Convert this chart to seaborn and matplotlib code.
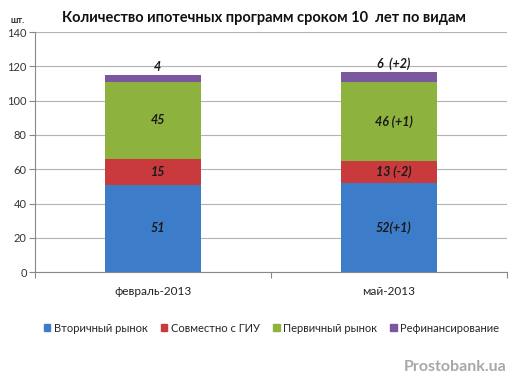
import numpy as np
import pandas as pd
import matplotlib
matplotlib.use("Agg")
import matplotlib.pyplot as plt
import seaborn as sns

# данные
months = ["февраль-2013", "май-2013"]
series = ["Вторичный рынок", "Совместно с ГИУ", "Первичный рынок", "Рефинансирование"]
vtorichny = [51, 52]
sovmestno = [15, 13]
pervichny = [45, 46]
refin = [4, 6]
labels_vtorichny = ["51", "52(+1)"]
labels_sovmestno = ["15", "13 (-2)"]
labels_pervichny = ["45", "46 (+1)"]
labels_refin = ["4", "6  (+2)"]
yticks = [0, 20, 40, 60, 80, 100, 120, 140]

colors = ["#3d7cc9", "#c93a3c", "#8db23e", "#7b57a0"]

sns.set_style("white")
plt.rcParams['font.family'] = ['Lato', 'DejaVu Sans']

fig = plt.figure(figsize=(5.27, 3.92), dpi=100)
ax = fig.add_axes([0.0664, 0.306, 0.8956, 0.612])

values = [vtorichny, sovmestno, pervichny, refin]
labels = [labels_vtorichny, labels_sovmestno, labels_pervichny, labels_refin]
cum = np.cumsum(np.array(values), axis=0)

# рисуем накопленные суммы сверху вниз, чтобы получить стек
for i in range(len(series) - 1, -1, -1):
    df = pd.DataFrame({"month": months, "value": cum[i]})
    sns.barplot(data=df, x="month", y="value", color=colors[i], width=0.41,
                saturation=1, ax=ax, zorder=2, linewidth=0, edgecolor="none")

for i in range(len(series)):
    for j in range(len(months)):
        bottom = cum[i][j] - values[i][j]
        if i == len(series) - 1:
            y = cum[i][j] + 1
            va = "bottom"
        else:
            y = bottom + values[i][j] / 2
            va = "center"
        ax.text(j + 0.02, y, labels[i][j], ha="center", va=va, fontsize=9,
                fontweight="bold", fontstyle="italic", color="#1a1a1a", zorder=3)

ax.set_ylim(0, 140)
ax.set_xlim(-0.5, 1.5)
ax.set_yticks(yticks)
ax.set_yticklabels([str(t) for t in yticks], fontsize=8, color="#333333")
ax.yaxis.grid(True, color="#b4b4b4", linewidth=0.8, zorder=0)
ax.set_axisbelow(True)
ax.set_xlabel("")
ax.set_ylabel("")
ax.set_xticks([-0.5, 0.5, 1.5])
ax.set_xticklabels([])
ax.set_xticks([0, 1], minor=True)
ax.set_xticklabels(months, minor=True, fontsize=8.5, color="#222222")
ax.tick_params(axis="x", which="minor", length=0, pad=10)
ax.tick_params(axis="x", which="major", length=4, color="#888888", direction="out", bottom=True)
ax.tick_params(axis="y", length=4, color="#888888", direction="out", left=True, pad=2)
for s in ["top", "right"]:
    ax.spines[s].set_visible(False)
ax.spines["left"].set_color("#888888")
ax.spines["bottom"].set_color("#888888")

fig.text(0.5, 0.953, "Количество ипотечных программ сроком 10  лет по видам",
         ha="center", va="center", fontsize=10.5, fontweight="bold", color="#111111")
fig.text(0.034, 0.948, "шт.", ha="center", va="center", fontsize=6.5,
         fontweight="bold", color="#333333")

handles = [plt.Rectangle((0, 0), 1, 1, color=c) for c in colors]
fig.legend(handles, series, loc="center", bbox_to_anchor=(0.515, 0.163), ncol=4,
           frameon=False, fontsize=8, handlelength=0.6, handleheight=0.6,
           handletextpad=0.3, columnspacing=1.2)

fig.text(0.962, 0.064, "Prostobank.ua", ha="right", va="center", fontsize=11.5,
         fontweight="bold", color="#a8a8a8")

fig.savefig("out.png", dpi=100)
